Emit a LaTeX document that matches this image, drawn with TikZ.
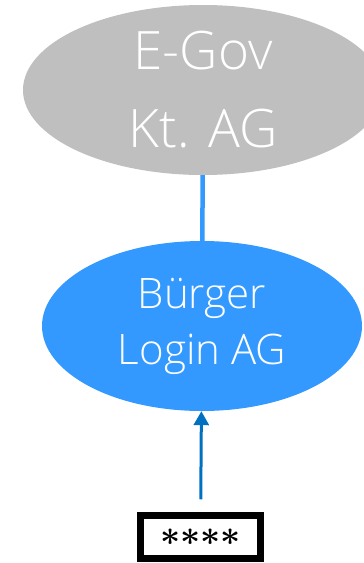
\documentclass[tikz,border=0pt]{standalone}
\usepackage{amsmath}
\usepackage{graphicx}
\usepackage{fontspec}
\setmainfont{Open Sans Light}
\usetikzlibrary{shapes.geometric,arrows.meta}
\definecolor{govgrau}{RGB}{191,191,191}
\definecolor{loginblau}{RGB}{51,153,255}
\definecolor{pfeilblau}{RGB}{0,112,192}
\newcommand{\stern}{\mathord{\boldsymbol{\ast}}}

\begin{document}
\begin{tikzpicture}[x=1pt,y=1pt,
		dienst/.style = {ellipse,inner sep=0pt,text=white,align=center},
		passwort/.style = {draw=black,line width=6.5pt,fill=white,minimum width=120pt,minimum height=43pt,inner sep=0pt}]
		\useasboundingbox (0,0) rectangle (364,-563);
		\node[dienst,fill=govgrau,minimum width=360pt,minimum height=170pt,
			font=\fontsize{53}{78}\selectfont] (egov) at (203,-90) {E-Gov\\Kt. AG};
		\node[dienst,fill=loginblau,minimum width=320pt,minimum height=170pt,
			font=\fontsize{42}{56}\selectfont] (login) at (202,-326) {Bürger\\Login AG};
		\node[passwort] (pw) at (200.5,-537) {\scalebox{3.5}{$\stern\stern\stern\stern$}};
		
		\draw[loginblau, line width=4.5pt] (egov) -- (login);
		\draw[pfeilblau, line width=3pt, -{Triangle[width=15pt,length=14pt]}, shorten <=13pt] (pw) -- (login);
	\end{tikzpicture}
\end{document}
